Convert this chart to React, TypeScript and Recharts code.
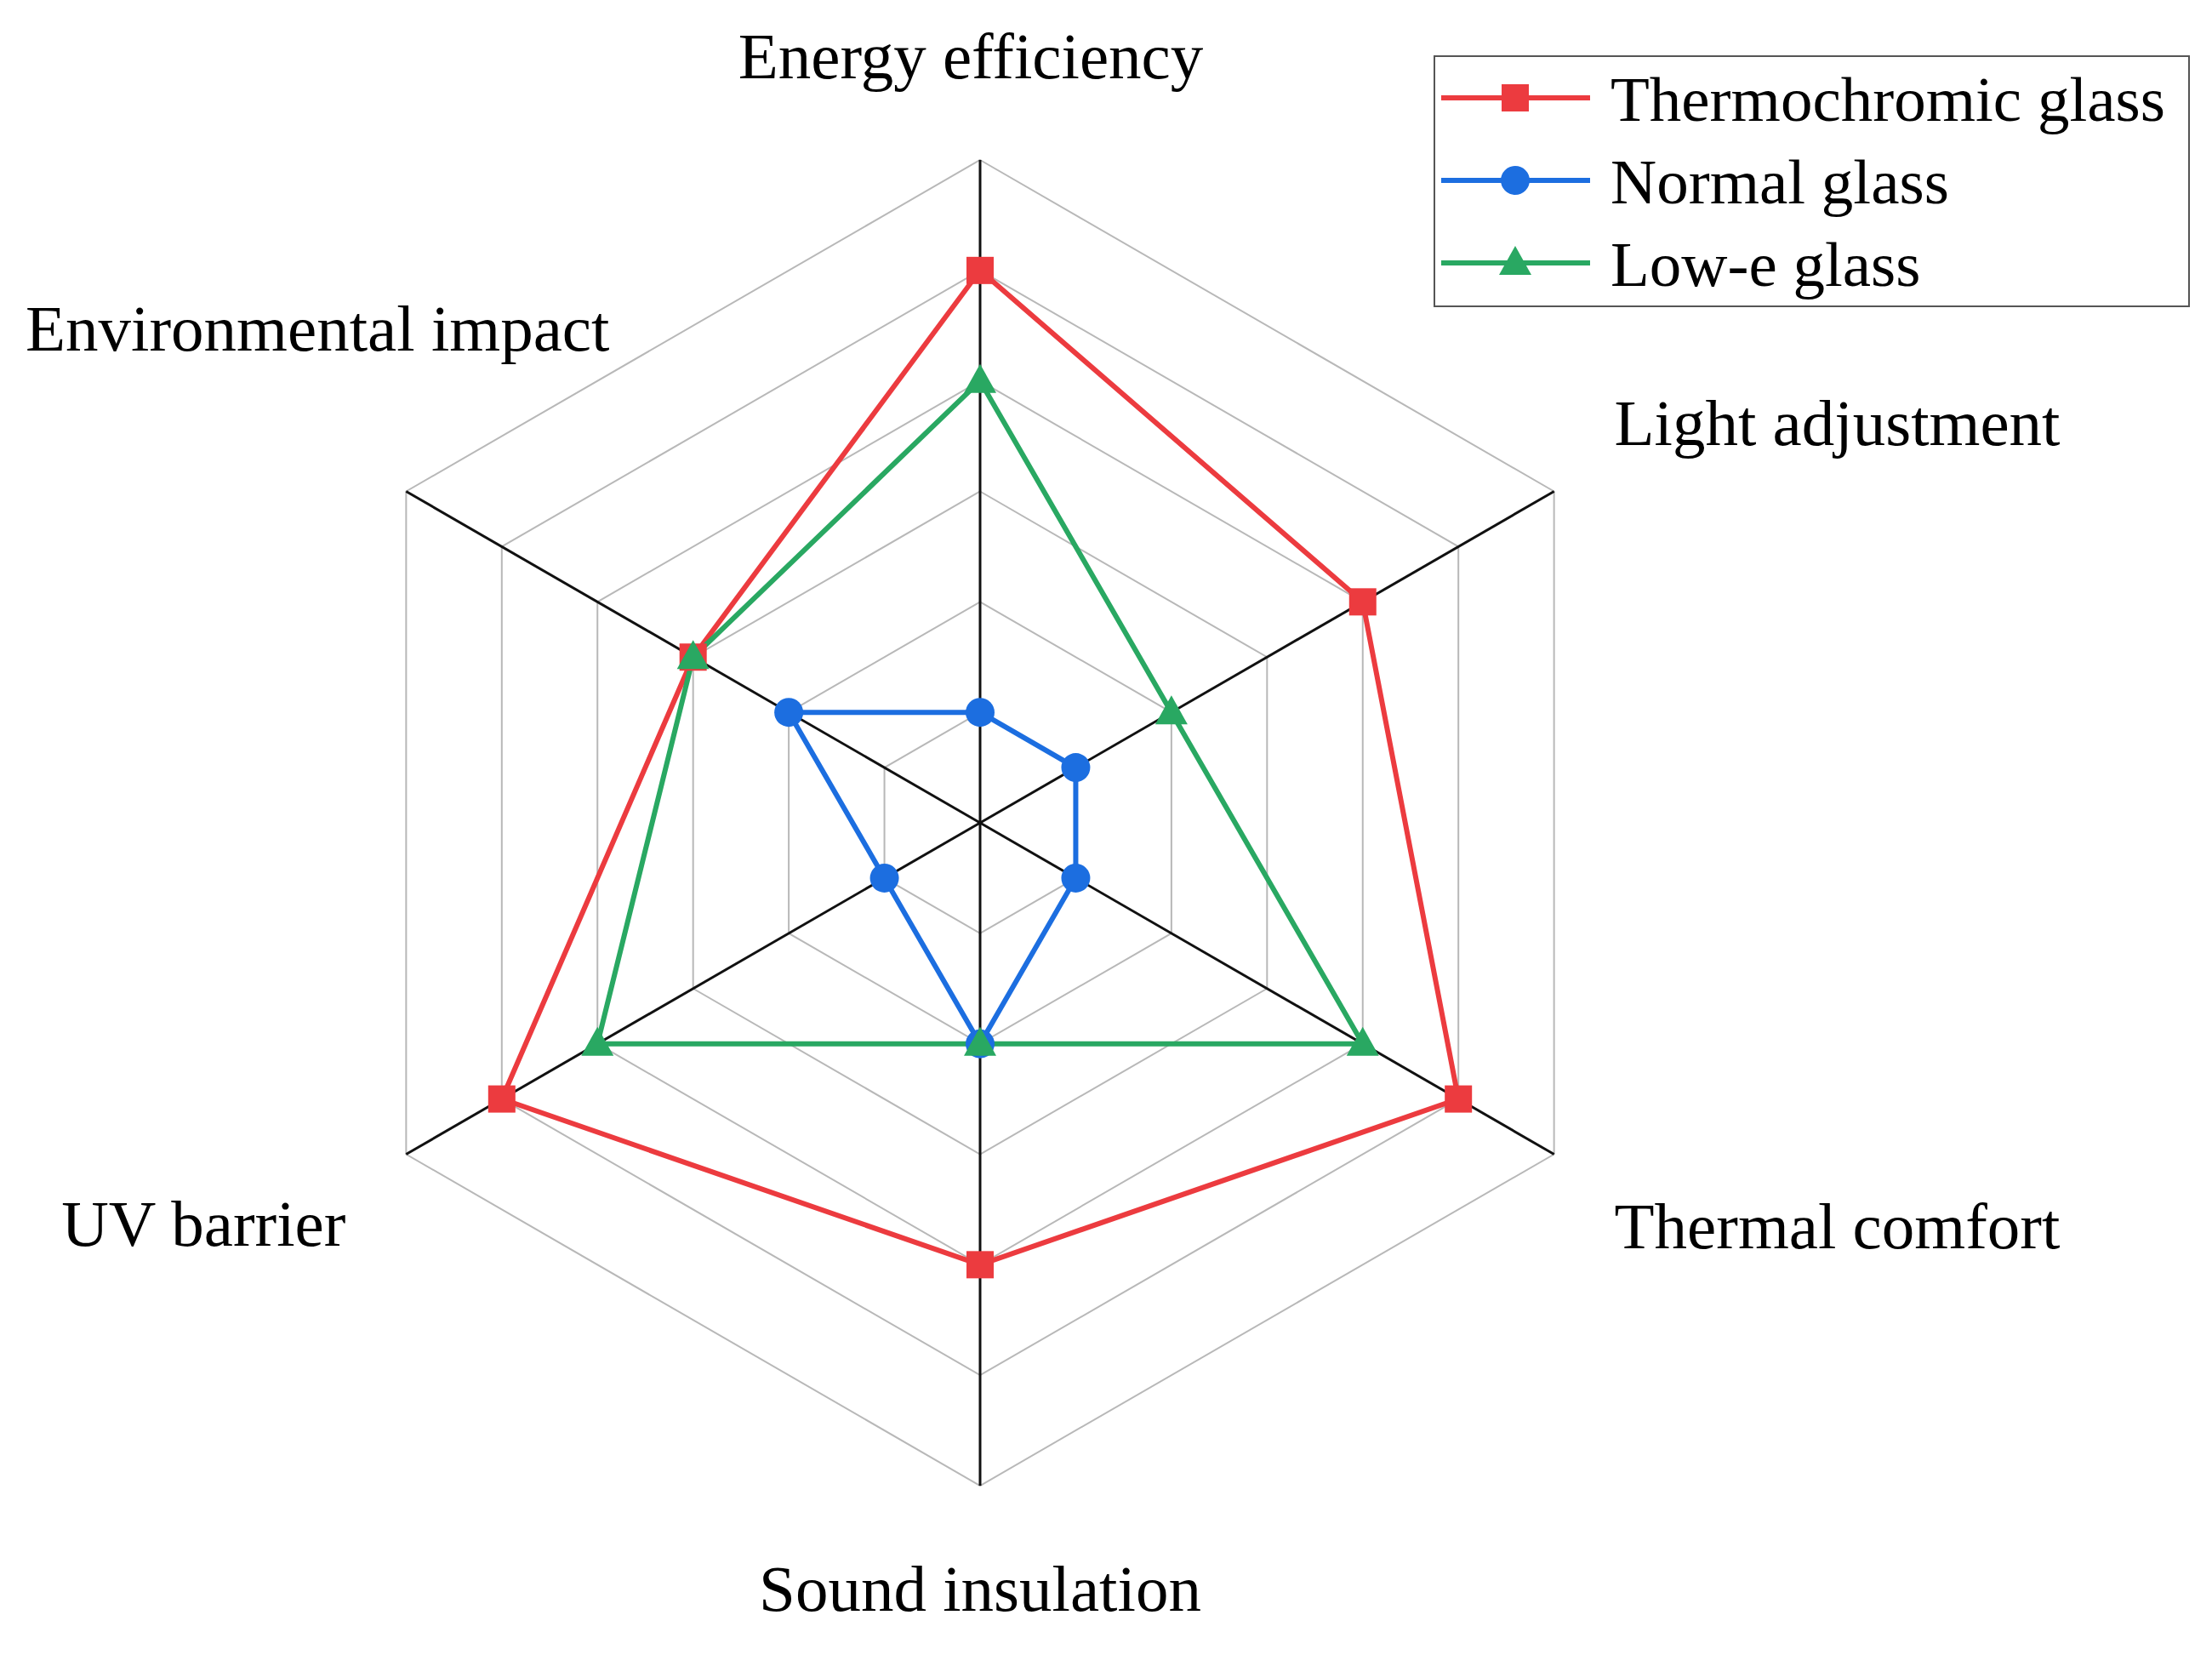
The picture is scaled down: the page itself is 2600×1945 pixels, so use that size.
import React from "react"
import { RadarChart, Radar, PolarGrid, PolarAngleAxis, PolarRadiusAxis, Legend } from "recharts"

const criteria = [
  "Energy efficiency",
  "Light adjustment",
  "Thermal comfort",
  "Sound insulation",
  "UV barrier",
  "Environmental impact",
]
const thermochromic = [5, 4, 5, 4, 5, 3]
const normal = [1, 1, 1, 2, 1, 2]
const lowE = [4, 2, 4, 2, 4, 3]
const ringValues = [0, 1, 2, 3, 4, 5, 6]

const data = criteria.map((name, i) => ({
  name,
  thermo: thermochromic[i],
  normal: normal[i],
  lowe: lowE[i],
}))

const RED = "#ec3b3f"
const BLUE = "#1c6ee0"
const GREEN = "#29a862"
const FONT = "'Liberation Serif', 'Times New Roman', serif"

// label placement relative to the tick point recharts hands us
const labelOffsets = [
  { dx: -11, dy: -88, anchor: "middle" },
  { dx: 64, dy: -51, anchor: "start" },
  { dx: 64, dy: 106, anchor: "start" },
  { dx: 0, dy: 139, anchor: "middle" },
  { dx: -64, dy: 103, anchor: "end" },
  { dx: 246, dy: -162, anchor: "end" },
]

function AngleTick(props: any) {
  const { x, y, payload, index } = props
  const o = labelOffsets[index] || { dx: 0, dy: 0, anchor: "middle" }
  return (
    <text x={x + o.dx} y={y + o.dy} textAnchor={o.anchor} fontFamily={FONT} fontSize={77} fill="#000">
      {payload.value}
    </text>
  )
}

function Marker({ shape, cx, cy, color }: { shape: string; cx: number; cy: number; color: string }) {
  if (shape === "square") return <rect x={cx - 16} y={cy - 16} width={32} height={32} fill={color} />
  if (shape === "circle") return <circle cx={cx} cy={cy} r={17} fill={color} />
  return <polygon points={`${cx},${cy - 20} ${cx + 19},${cy + 14} ${cx - 19},${cy + 14}`} fill={color} />
}

const makeDot = (shape: string, color: string) => (p: any) => (
  <Marker key={`${shape}-${p.index}`} shape={shape} cx={p.cx} cy={p.cy} color={color} />
)

const legendItems = [
  { label: "Thermochromic glass", color: RED, shape: "square" },
  { label: "Normal glass", color: BLUE, shape: "circle" },
  { label: "Low-e glass", color: GREEN, shape: "triangle" },
]

function LegendBox() {
  return (
    <svg width={889} height={296}>
      <rect x={1} y={1} width={887} height={294} fill="#fff" stroke="#555" strokeWidth={2} />
      {legendItems.map((it, i) => {
        const y = 50 + i * 97
        return (
          <g key={it.label}>
            <line x1={9} x2={184} y1={y} y2={y} stroke={it.color} strokeWidth={6} />
            <Marker shape={it.shape} cx={96} cy={y} color={it.color} />
            <text x={208} y={y + 27} fontFamily={FONT} fontSize={75} fill="#000">
              {it.label}
            </text>
          </g>
        )
      })}
    </svg>
  )
}

export default function App() {
  return (
    <div style={{ position: "absolute", left: 0, top: 0, background: "#fff" }}>
      <RadarChart
        width={2600}
        height={1945}
        data={data}
        cx={1152}
        cy={967}
        outerRadius={779}
        margin={{ top: 0, right: 0, bottom: 0, left: 0 }}
      >
        <PolarGrid gridType="polygon" radialLines={false} stroke="#b8b8b8" strokeWidth={2} />
        <PolarGrid gridType="polygon" polarRadius={[0]} stroke="#111" strokeWidth={3} />
        <PolarAngleAxis dataKey="name" tick={<AngleTick />} tickLine={false} axisLine={false} />
        <PolarRadiusAxis domain={[0, 6]} ticks={ringValues as any} tickCount={7} tick={false} axisLine={false} />
        <Radar
          dataKey="thermo"
          name="Thermochromic glass"
          stroke={RED}
          strokeWidth={6}
          fill="none"
          dot={makeDot("square", RED)}
          isAnimationActive={false}
        />
        <Radar
          dataKey="normal"
          name="Normal glass"
          stroke={BLUE}
          strokeWidth={6}
          fill="none"
          dot={makeDot("circle", BLUE)}
          isAnimationActive={false}
        />
        <Radar
          dataKey="lowe"
          name="Low-e glass"
          stroke={GREEN}
          strokeWidth={6}
          fill="none"
          dot={makeDot("triangle", GREEN)}
          isAnimationActive={false}
        />
        <Legend
          content={() => <LegendBox />}
          wrapperStyle={{ position: "absolute", left: 1685, top: 65, width: 889, height: 296 }}
        />
      </RadarChart>
    </div>
  )
}
